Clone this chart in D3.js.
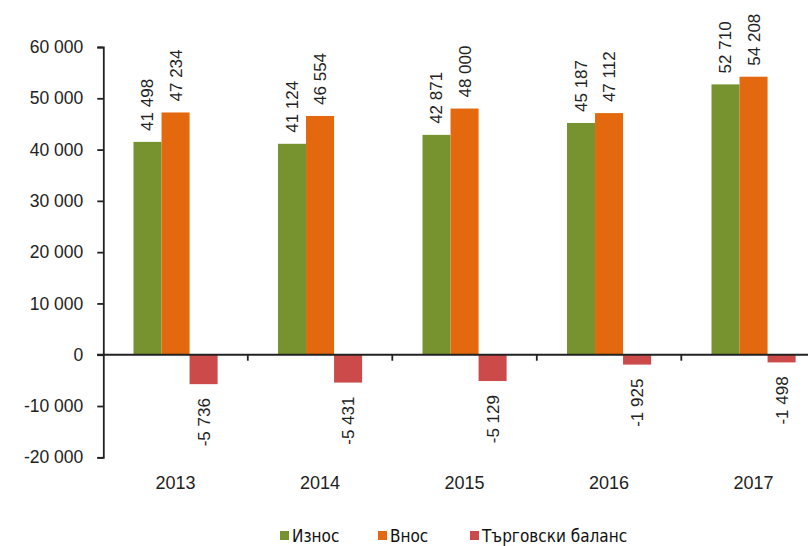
<!DOCTYPE html>
<html>
<head>
<meta charset="utf-8">
<script src="https://cdn.jsdelivr.net/npm/d3@7"></script>
<style>
  html, body { margin: 0; padding: 0; background: #fff; }
  svg { display: block; }
  .num { font-family: "Liberation Sans", Arial, sans-serif; fill: #222; }
  .cond { font-family: "Liberation Sans Narrow", "Arial Narrow", "DejaVu Sans Condensed", sans-serif; fill: #111; }
</style>
</head>
<body>
<svg id="chart" width="808" height="546"></svg>
<script>
const years = ["2013", "2014", "2015", "2016", "2017"];
const exportsVals = [41498, 41124, 42871, 45187, 52710];
const importsVals = [47234, 46554, 48000, 47112, 54208];
const balanceVals = [-5736, -5431, -5129, -1925, -1498];
const seriesNames = ["Износ", "Внос", "Търговски баланс"];
const seriesColors = ["#77932f", "#e4680e", "#cc4a4a"];
const yTicks = [-20000, -10000, 0, 10000, 20000, 30000, 40000, 50000, 60000];

const seriesVals = [exportsVals, importsVals, balanceVals];

const svg = d3.select("#chart");
const W = 808, H = 546;

const loc = d3.formatLocale({decimal: ",", thousands: " ", grouping: [3], currency: ["", ""], minus: "-"});
const fmt = loc.format(",d");

const x0 = d3.scaleBand().domain(years).range([103.3, 825.8]).paddingInner(0).paddingOuter(0);
const x1 = d3.scaleBand().domain(d3.range(3)).range([30.2, 114.3]).padding(0);
const y = d3.scaleLinear().domain([-20000, 60000]).range([457.3, 47]);

// Bars
const groups = svg.append("g").selectAll("g").data(years).join("g")
  .attr("transform", d => `translate(${x0(d)},0)`);

groups.each(function(yr, i) {
  const g = d3.select(this);
  seriesVals.forEach((vals, s) => {
    const v = vals[i];
    g.append("rect")
      .attr("x", x1(s))
      .attr("width", x1.bandwidth())
      .attr("y", Math.min(y(v), y(0)))
      .attr("height", Math.abs(y(v) - y(0)))
      .attr("fill", seriesColors[s]);
    const cx = x1(s) + x1.bandwidth() / 2;
    const pos = v >= 0;
    g.append("text")
      .attr("class", "num")
      .attr("font-size", 17)
      .attr("transform", `translate(${cx},${pos ? y(v) - 11 : y(v) + 14}) rotate(-90)`)
      .attr("dy", "0.35em")
      .attr("text-anchor", pos ? "start" : "end")
      .text(fmt(v));
  });
});

// Y axis
const yAxis = d3.axisLeft(y).tickValues(yTicks).tickFormat(fmt).tickSize(6).tickSizeOuter(6).tickPadding(14);
const ya = svg.append("g").attr("transform", "translate(103.3,0)").call(yAxis);
ya.select(".domain").attr("stroke", "#222").attr("stroke-width", 1.8);
ya.selectAll(".tick line").attr("stroke", "#222").attr("stroke-width", 1.8);
ya.selectAll(".tick text").attr("class", "num").attr("font-size", 17.5).attr("fill", "#222");

// X axis (zero line)
svg.append("line")
  .attr("x1", 97).attr("x2", W)
  .attr("y1", y(0)).attr("y2", y(0))
  .attr("stroke", "#222").attr("stroke-width", 1.8);
svg.append("g").selectAll("line").data(years.slice(1)).join("line")
  .attr("x1", d => x0(d)).attr("x2", d => x0(d))
  .attr("y1", y(0)).attr("y2", y(0) + 6)
  .attr("stroke", "#222").attr("stroke-width", 1.8);

// Year labels
svg.append("g").selectAll("text").data(years).join("text")
  .attr("class", "num")
  .attr("font-size", 18)
  .attr("fill", "#111")
  .attr("x", d => x0(d) + x0.bandwidth() / 2)
  .attr("y", 489)
  .attr("text-anchor", "middle")
  .text(d => d);

// Legend
const legX = [280, 378, 470];
const leg = svg.append("g");
seriesNames.forEach((n, s) => {
  leg.append("rect").attr("x", legX[s]).attr("y", 531).attr("width", 9).attr("height", 9).attr("fill", seriesColors[s]);
  leg.append("text").attr("class", "cond").attr("font-size", 17)
    .attr("x", legX[s] + 12).attr("y", 542).text(n);
});
</script>
</body>
</html>
